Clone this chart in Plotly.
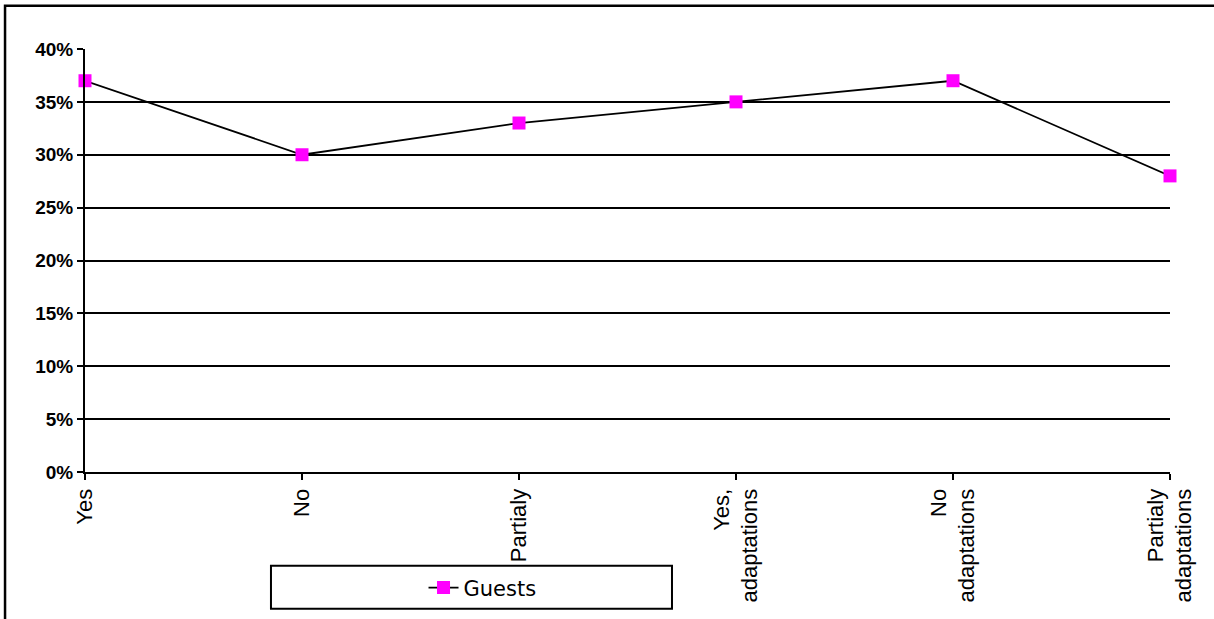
import plotly.graph_objects as go

# Survey answers and the share of guests giving each answer
categories = ["Yes", "No", "Partialy", "Yes,<br>adaptations", "No<br>adaptations", "Partialy<br>adaptations"]
guests = [0.37, 0.30, 0.33, 0.35, 0.37, 0.28]
y_ticks = [0, 0.05, 0.10, 0.15, 0.20, 0.25, 0.30, 0.35, 0.40]
y_tick_text = ["0%", "5%", "10%", "15%", "20%", "25%", "30%", "35%", "40%"]

fig = go.Figure()
fig.add_trace(go.Scatter(
    x=list(range(len(categories))),
    y=guests,
    mode="lines+markers",
    name="Guests",
    line=dict(color="black", width=1.8),
    marker=dict(symbol="square", size=13, color="#FF00FF", line=dict(width=0)),
    cliponaxis=False,
))

fig.update_layout(
    width=1214,
    height=619,
    margin=dict(l=85, r=44, t=49, b=146),
    paper_bgcolor="white",
    plot_bgcolor="white",
    showlegend=True,
    legend=dict(
        x=0.312, y=-0.271, xanchor="left", yanchor="middle",
        bgcolor="rgba(0,0,0,0)", borderwidth=0,
        font=dict(family="DejaVu Sans", size=21, color="black"),
    ),
    xaxis=dict(
        range=[0, len(categories) - 1],
        tickmode="array",
        tickvals=list(range(len(categories))),
        ticktext=categories,
        tickangle=-90,
        ticks="outside", ticklen=6, tickwidth=2, tickcolor="black",
        showline=True, linecolor="black", linewidth=2,
        showgrid=False, zeroline=False,
        tickfont=dict(family="Liberation Sans", size=22, color="black"),
    ),
    yaxis=dict(
        range=[0, 0.40],
        tickmode="array",
        tickvals=y_ticks,
        ticktext=y_tick_text,
        ticks="outside", ticklen=6, tickwidth=2, tickcolor="black",
        showline=True, linecolor="black", linewidth=2,
        showgrid=True, gridcolor="black", gridwidth=2,
        zeroline=False,
        tickfont=dict(family="Liberation Sans", size=19, color="black", weight="bold"),
    ),
    shapes=[
        # legend frame
        dict(type="rect", xref="paper", yref="paper",
             x0=0.1714, x1=0.541, y0=-0.323, y1=-0.2217,
             line=dict(color="black", width=2), fillcolor="rgba(0,0,0,0)"),
        # outer chart frame
        dict(type="rect", xref="paper", yref="paper",
             x0=-0.0737, x1=1.2, y0=-0.5, y1=1.1023,
             line=dict(color="black", width=2.5), fillcolor="rgba(0,0,0,0)"),
    ],
)

fig.write_html("out.html")
